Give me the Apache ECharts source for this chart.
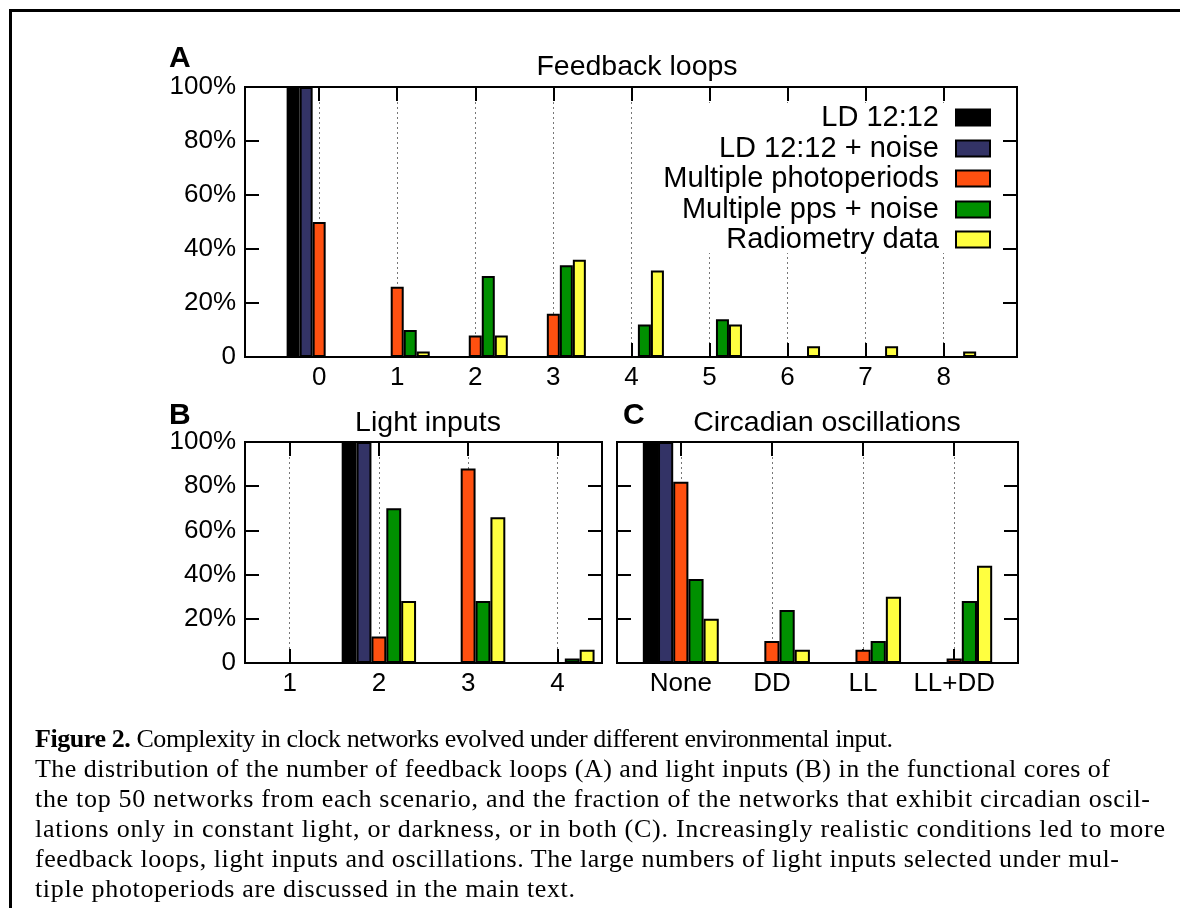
<!DOCTYPE html>
<html>
<head>
<meta charset="utf-8">
<script src="https://cdn.jsdelivr.net/npm/echarts@6/dist/echarts.min.js"></script>
<style>
  html, body { margin: 0; padding: 0; background: #fff; }
  #wrap { position: relative; width: 1180px; height: 908px; overflow: hidden; }
  #chart { position: absolute; left: 0; top: 0; width: 1180px; height: 908px; }
  #frame { position: absolute; left: 9px; top: 9px; right: -10px; bottom: -10px;
    border-top: 3px solid #000; border-left: 3px solid #000; pointer-events: none; }
  #caption { position: absolute; left: 35px; top: 724px; width: 1140px;
    font-family: 'Liberation Serif', 'Times New Roman', serif; font-size: 26px;
    line-height: 30px; color: #000; white-space: nowrap; }
  #caption div { display: block; }
</style>
</head>
<body>
<div id="wrap">
  <div id="chart"></div>
  <div id="frame"></div>
  <div id="caption">
    <div data-w="858"><b>Figure 2.</b> Complexity in clock networks evolved under different environmental input.</div>
    <div data-w="1075">The distribution of the number of feedback loops (A) and light inputs (B) in the functional cores of</div>
    <div data-w="1115">the top 50 networks from each scenario, and the fraction of the networks that exhibit circadian oscil-</div>
    <div data-w="1130">lations only in constant light, or darkness, or in both (C). Increasingly realistic conditions led to more</div>
    <div data-w="1084">feedback loops, light inputs and oscillations. The large numbers of light inputs selected under mul-</div>
    <div data-w="540">tiple photoperiods are discussed in the main text.</div>
  </div>
</div>
<script>
// scenario names (legend) and colours
const scenarios = ['LD 12:12', 'LD 12:12 + noise', 'Multiple photoperiods', 'Multiple pps + noise', 'Radiometry data'];
const colors = ['#000000', '#333366', '#ff5010', '#009000', '#ffff40'];

// A: feedback loops 0..8, % of top 50 networks
const loopCats = [0, 1, 2, 3, 4, 5, 6, 7, 8];
const loopsLD = [100, 0, 0, 0, 0, 0, 0, 0, 0];
const loopsLDNoise = [100, 0, 0, 0, 0, 0, 0, 0, 0];
const loopsMulti = [50, 26, 8, 16, 0, 0, 0, 0, 0];
const loopsMultiNoise = [0, 10, 30, 34, 12, 14, 0, 0, 0];
const loopsRadio = [0, 2, 8, 36, 32, 12, 4, 4, 2];

// B: light inputs 1..4
const lightCats = [1, 2, 3, 4];
const lightLD = [0, 100, 0, 0];
const lightLDNoise = [0, 100, 0, 0];
const lightMulti = [0, 12, 88, 0];
const lightMultiNoise = [0, 70, 28, 2];
const lightRadio = [0, 28, 66, 6];

// C: circadian oscillations
const circCats = ['None', 'DD', 'LL', 'LL+DD'];
const circLD = [100, 0, 0, 0];
const circLDNoise = [100, 0, 0, 0];
const circMulti = [82, 10, 6, 2];
const circMultiNoise = [38, 24, 10, 28];
const circRadio = [20, 6, 30, 44];

const FONT = "'Liberation Sans', Arial, Helvetica, sans-serif";
const TICK_FS = 26;
const TITLE_FS = 28.5;
const LEGEND_FS = 29;

// stretch caption lines a little so they fill the same width as the printed figure
document.querySelectorAll('#caption div').forEach(el => {
  const span = document.createElement('span');
  span.innerHTML = el.innerHTML;
  el.innerHTML = '';
  el.appendChild(span);
  const natural = span.getBoundingClientRect().width;
  const target = +el.dataset.w;
  const chars = span.textContent.length;
  if (chars > 1) span.style.letterSpacing = ((target - natural) / (chars - 1)) + 'px';
});

const chart = echarts.init(document.getElementById('chart'));

const tickStyle = { show: true, inside: true, length: 14, lineStyle: { color: '#000', width: 2 } };

function xAxes(gridIndex, min, max, labelFn) {
  return [
    {
      type: 'value', gridIndex, min, max, minInterval: 1, maxInterval: 1, position: 'bottom',
      axisLine: { show: false, onZero: false },
      axisTick: tickStyle,
      axisLabel: {
        color: '#000', fontFamily: FONT, fontSize: TICK_FS, margin: 8,
        showMinLabel: false, showMaxLabel: false,
        formatter: v => (Number.isInteger(v) ? labelFn(v) : '')
      },
      splitLine: { show: true, showMinLine: false, showMaxLine: false,
        lineStyle: { color: '#777', width: 1, type: [2, 3] } }
    },
    {
      type: 'value', gridIndex, min, max, minInterval: 1, maxInterval: 1, position: 'top',
      axisLine: { show: false, onZero: false },
      axisTick: tickStyle,
      axisLabel: { show: false },
      splitLine: { show: false }
    }
  ];
}

function yAxes(gridIndex, showLabels) {
  return [
    {
      type: 'value', gridIndex, min: 0, max: 100, interval: 20, position: 'left',
      axisLine: { show: false, onZero: false },
      axisTick: tickStyle,
      axisLabel: {
        show: showLabels, color: '#000', fontFamily: FONT, fontSize: TICK_FS, margin: 9,
        formatter: v => (v === 0 ? '0' : v + '%')
      },
      splitLine: { show: false }
    },
    {
      type: 'value', gridIndex, min: 0, max: 100, interval: 20, position: 'right',
      axisLine: { show: false, onZero: false },
      axisTick: tickStyle,
      axisLabel: { show: false },
      splitLine: { show: false }
    }
  ];
}

function barSeries(panel, xs, lists) {
  return lists.map((vals, i) => ({
    name: scenarios[i],
    type: 'bar',
    xAxisIndex: panel * 2,
    yAxisIndex: panel * 2,
    data: xs.map((x, j) => [x, vals[j]]),
    barGap: '0%',
    barCategoryGap: '16.67%',
    itemStyle: { color: colors[i], borderColor: '#000', borderWidth: 2 },
    emphasis: { disabled: true },
    animation: false
  }));
}

const gridStyle = { show: true, borderColor: '#000', borderWidth: 2, backgroundColor: 'transparent' };

const legendTops = [103, 134, 164, 195, 225];

const titleText = { fontSize: TITLE_FS, fontWeight: 'normal', color: '#000', fontFamily: FONT };
const letterText = { fontSize: 30, fontWeight: 'bold', color: '#000', fontFamily: FONT };

const option = {
  animation: false,
  textStyle: { fontFamily: FONT },
  title: [
    { text: 'A', left: 164, top: 39, textStyle: letterText },
    { text: 'Feedback loops', left: 632, top: 48, textAlign: 'center', textStyle: titleText },
    { text: 'B', left: 164, top: 396, textStyle: letterText },
    { text: 'Light inputs', left: 423, top: 404, textAlign: 'center', textStyle: titleText },
    { text: 'C', left: 618, top: 396, textStyle: letterText },
    { text: 'Circadian oscillations', left: 822, top: 404, textAlign: 'center', textStyle: titleText }
  ],
  legend: scenarios.map((name, i) => ({
    data: [name],
    orient: 'vertical',
    right: 189,
    top: legendTops[i],
    align: 'right',
    padding: 0,
    itemWidth: 34,
    itemHeight: 16,
    selectedMode: false,
    icon: 'rect',
    itemStyle: { borderColor: '#000', borderWidth: 2 },
    textStyle: { fontSize: LEGEND_FS, color: '#000', fontFamily: FONT, padding: [0, 12, 0, 0] }
  })),
  graphic: [
    { type: 'rect', shape: { x: 655, y: 103, width: 345, height: 150 }, style: { fill: '#fff' }, z: 1, silent: true }
  ],
  grid: [
    Object.assign({ left: 245, top: 87, width: 772, height: 270 }, gridStyle),
    Object.assign({ left: 245, top: 442, width: 357, height: 221 }, gridStyle),
    Object.assign({ left: 617, top: 442, width: 401, height: 221 }, gridStyle)
  ],
  xAxis: [
    ...xAxes(0, -0.95, 8.94, v => String(v)),
    ...xAxes(1, 0.5, 4.5, v => String(v)),
    ...xAxes(2, -0.7, 3.7, v => circCats[v] || '')
  ],
  yAxis: [
    ...yAxes(0, true),
    ...yAxes(1, true),
    ...yAxes(2, false)
  ],
  series: [
    ...barSeries(0, loopCats, [loopsLD, loopsLDNoise, loopsMulti, loopsMultiNoise, loopsRadio]),
    ...barSeries(1, lightCats, [lightLD, lightLDNoise, lightMulti, lightMultiNoise, lightRadio]),
    ...barSeries(2, [0, 1, 2, 3], [circLD, circLDNoise, circMulti, circMultiNoise, circRadio])
  ]
};

chart.setOption(option);
</script>
</body>
</html>
